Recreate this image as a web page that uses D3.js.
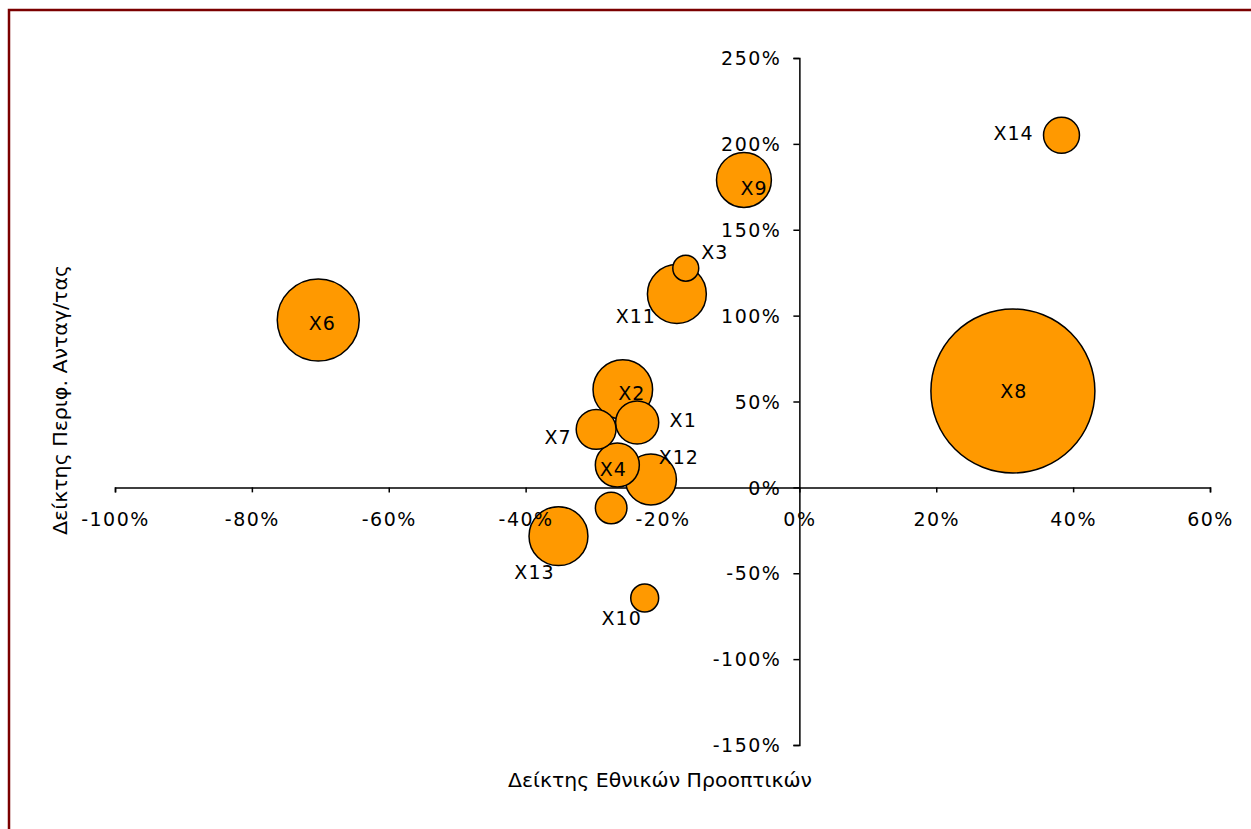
<!DOCTYPE html>
<html>
<head>
<meta charset="utf-8">
<script src="https://cdn.jsdelivr.net/npm/d3@7"></script>
<style>
  html, body { margin: 0; padding: 0; background: #fff; }
  svg { display: block; }
  text { font-family: "DejaVu Sans", Verdana, sans-serif; fill: #000; }
</style>
</head>
<body>
<svg id="chart" width="1251" height="829"></svg>
<script>
// ---- data ----
const labels = ["X1", "X2", "X3", "X4", "X5", "X6", "X7", "X8", "X9", "X10", "X11", "X12", "X13", "X14"];
const xValues = [-23.7, -25.8, -16.6, -26.6, -27.5, -70.3, -29.7, 31.2, -8.1, -22.6, -17.9, -21.7, -35.2, 38.3];
const yValues = [37.8, 57.0, 127.6, 13.0, -12.0, 97.5, 33.8, 56.1, 179.0, -64.4, 112.6, 4.6, -28.4, 205.0];
const sizes = [6.9, 13.2, 2.5, 7.2, 3.7, 25.0, 5.9, 100.0, 11.2, 2.9, 12.9, 9.7, 12.9, 4.8];
const showLabel = [true, true, true, true, false, true, true, true, true, true, true, true, true, true];
const xTicks = [-100, -80, -60, -40, -20, 0, 20, 40, 60];
const yTicks = [-150, -100, -50, 0, 50, 100, 150, 200, 250];
const xTitle = "Δείκτης Εθνικών Προοπτικών";
const yTitle = "Δείκτης Περιφ. Ανταγ/τας";

// label placement offsets (layout only)
const labelOffsets = [
  [46, -2], [9, 4], [29, -16], [-4, 4], [0, 0], [4, 3], [-38, 8], [1, 0],
  [10, 8], [-23, 20], [-41, 22], [28, -22], [-24, 36], [-48, -2]
];

const svg = d3.select("#chart");

// frame
svg.append("rect")
  .attr("x", 9).attr("y", 10)
  .attr("width", 1260).attr("height", 840)
  .attr("fill", "none")
  .attr("stroke", "#7b0000")
  .attr("stroke-width", 2.5);

const x = d3.scaleLinear().domain([-100, 60]).range([115, 1210]);
const y = d3.scaleLinear().domain([-150, 250]).range([745, 58]);
const r = d3.scaleSqrt().domain([0, 100]).range([0, 82]);

const data = labels.map((l, i) => ({
  label: l, x: xValues[i], y: yValues[i], s: sizes[i], show: showLabel[i], off: labelOffsets[i]
}));

const fmt = d => d + "%";
const xAxisGen = d3.axisBottom(x).tickValues(xTicks).tickFormat(fmt).tickSize(5).tickPadding(20);
const yAxisGen = d3.axisLeft(y).tickValues(yTicks).tickFormat(fmt).tickSize(6).tickPadding(12);

function styleAxis(g, keepLines, keepText) {
  g.select(".domain").attr("stroke", keepLines ? "#000" : "none").attr("stroke-width", 1.5);
  g.selectAll(".tick line").attr("stroke", keepLines ? "#000" : "none").attr("stroke-width", 1.5);
  if (!keepText) g.selectAll(".tick text").remove();
  else g.selectAll(".tick text")
    .style("font-family", '"DejaVu Sans", Verdana, sans-serif')
    .style("font-size", "19px")
    .style("letter-spacing", "1.5px")
    .attr("fill", "#000");
}

// axis lines (under bubbles)
const xLines = svg.append("g").attr("transform", `translate(0,${y(0)})`).call(xAxisGen);
const yLines = svg.append("g").attr("transform", `translate(${x(0)},0)`).call(yAxisGen);
styleAxis(xLines, true, false);
styleAxis(yLines, true, false);

// bubbles (largest first so small ones sit on top)
const sorted = data.slice().sort((a, b) => b.s - a.s);
svg.append("g").selectAll("circle")
  .data(sorted)
  .join("circle")
  .attr("cx", d => x(d.x))
  .attr("cy", d => y(d.y))
  .attr("r", d => r(d.s))
  .attr("fill", "#ff9900")
  .attr("stroke", "#000")
  .attr("stroke-width", 1.5);

// tick labels (above bubbles)
const xText = svg.append("g").attr("transform", `translate(0,${y(0)})`).call(xAxisGen);
const yText = svg.append("g").attr("transform", `translate(${x(0)},0)`).call(yAxisGen);
styleAxis(xText, false, true);
styleAxis(yText, false, true);
xText.selectAll(".tick text").attr("dy", "0.71em");
yText.selectAll(".tick text").attr("dy", "0.35em");

// labels
svg.append("g").selectAll("text")
  .data(data.filter(d => d.show))
  .join("text")
  .attr("x", d => x(d.x) + d.off[0])
  .attr("y", d => y(d.y) + d.off[1])
  .attr("text-anchor", "middle")
  .attr("dy", "0.35em")
  .style("font-size", "19px")
  .style("letter-spacing", "1px")
  .text(d => d.label);

// axis titles
svg.append("text")
  .attr("x", 660).attr("y", 787)
  .attr("text-anchor", "middle")
  .attr("textLength", 304)
  .attr("lengthAdjust", "spacingAndGlyphs")
  .style("font-size", "19px")
  .text(xTitle);

svg.append("text")
  .attr("transform", "translate(67,400) rotate(-90)")
  .attr("text-anchor", "middle")
  .attr("textLength", 270)
  .attr("lengthAdjust", "spacingAndGlyphs")
  .style("font-size", "20px")
  .text(yTitle);
</script>
</body>
</html>
